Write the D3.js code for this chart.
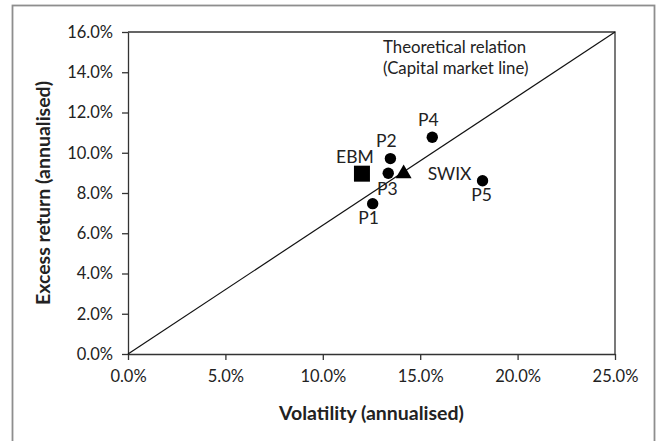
<!DOCTYPE html>
<html>
<head>
<meta charset="utf-8">
<script src="https://cdn.jsdelivr.net/npm/d3@7"></script>
<style>
  body { margin: 0; background: #fff; }
  text { font-family: Lato, "Open Sans", sans-serif; fill: #222; }
</style>
</head>
<body>
<svg id="chart" width="660" height="441"></svg>
<script>
// Portfolios: annualised volatility vs annualised excess return
const portfolioNames = ["P1", "P2", "P3", "P4", "P5"];
const portfolioVolatility = [0.1256, 0.1347, 0.1336, 0.1562, 0.1820];
const portfolioReturn = [0.0747, 0.0971, 0.0898, 0.1077, 0.0861];

// Benchmarks
const benchmarkNames = ["EBM", "SWIX"];
const benchmarkVolatility = [0.1201, 0.1415];
const benchmarkReturn = [0.0896, 0.0896];

// Capital market line end points
const cmlVolatility = [0, 0.25];
const cmlReturn = [0, 0.16];

// Axis ticks
const xTicks = [0, 0.05, 0.10, 0.15, 0.20, 0.25];
const yTicks = [0, 0.02, 0.04, 0.06, 0.08, 0.10, 0.12, 0.14, 0.16];

const xTitle = "Volatility (annualised)";
const yTitle = "Excess return (annualised)";
const cmlLabel = ["Theoretical relation", "(Capital market line)"];

// Label placement relative to each marker (dx, dy, anchor)
const labelLayout = {
  P1: [-4, 20, "middle"],
  P2: [-4, -12, "middle"],
  P3: [-1, 22, "middle"],
  P4: [-4, -11, "middle"],
  P5: [-1, 20, "middle"],
  EBM: [-7, -11, "middle"],
  SWIX: [24, 6, "start"]
};

const svg = d3.select("#chart");
const margin = { left: 128, right: 45, top: 32, bottom: 87 };
const W = 660, H = 441;

const x = d3.scaleLinear().domain([0, 0.25]).range([margin.left, W - margin.right]);
const y = d3.scaleLinear().domain([0, 0.16]).range([H - margin.bottom, margin.top]);

// Outer frame
svg.append("rect")
  .attr("x", 12.5).attr("y", 5.5)
  .attr("width", 642).attr("height", 480)
  .attr("fill", "none").attr("stroke", "#8e8e8e").attr("stroke-width", 1.8);

const fmt = d3.format(".1%");
const axisColor = "#333";

// Axes
const gx = svg.append("g")
  .attr("transform", `translate(0,${y(0)})`)
  .call(d3.axisBottom(x).tickValues(xTicks).tickFormat(fmt).tickSizeInner(6).tickSizeOuter(0).tickPadding(10));
const gy = svg.append("g")
  .attr("transform", `translate(${x(0)},0)`)
  .call(d3.axisLeft(y).tickValues(yTicks).tickFormat(fmt).tickSizeInner(6).tickSizeOuter(0).tickPadding(9));

[gx, gy].forEach(g => {
  g.select(".domain").attr("stroke", axisColor).attr("stroke-width", 1.3);
  g.selectAll(".tick line").attr("stroke", axisColor).attr("stroke-width", 1.3);
  g.selectAll(".tick text").attr("font-family", "Lato, 'Open Sans', sans-serif")
    .attr("font-size", 16.5).attr("fill", "#2a2a2a");
});

// Top and right borders of the plot area
svg.append("path")
  .attr("d", `M${x(0)},${y(0.16)}H${x(0.25)}V${y(0)}`)
  .attr("fill", "none").attr("stroke", axisColor).attr("stroke-width", 1.3);

// Capital market line
svg.append("line")
  .attr("x1", x(cmlVolatility[0])).attr("y1", y(cmlReturn[0]))
  .attr("x2", x(cmlVolatility[1])).attr("y2", y(cmlReturn[1]))
  .attr("stroke", "#111").attr("stroke-width", 1.2);

svg.append("text")
  .attr("x", 383).attr("y", 53)
  .attr("font-size", 16.8)
  .selectAll("tspan").data(cmlLabel).join("tspan")
  .attr("x", 383).attr("dy", (d, i) => i === 0 ? 0 : 21)
  .text(d => d);

// Portfolio markers
const portfolios = portfolioNames.map((n, i) => ({ name: n, vol: portfolioVolatility[i], ret: portfolioReturn[i] }));
const benchmarks = benchmarkNames.map((n, i) => ({ name: n, vol: benchmarkVolatility[i], ret: benchmarkReturn[i] }));

svg.append("g").selectAll("circle").data(portfolios).join("circle")
  .attr("cx", d => x(d.vol)).attr("cy", d => y(d.ret))
  .attr("r", 5.7).attr("fill", "#000");

const symbolFor = { EBM: d3.symbol(d3.symbolSquare, 256), SWIX: d3.symbol(d3.symbolTriangle, 110) };
svg.append("g").selectAll("path").data(benchmarks).join("path")
  .attr("transform", d => `translate(${x(d.vol)},${y(d.ret)})`)
  .attr("d", d => symbolFor[d.name]())
  .attr("fill", "#000");

// Marker labels
svg.append("g").selectAll("text").data(portfolios.concat(benchmarks)).join("text")
  .attr("x", d => x(d.vol) + labelLayout[d.name][0])
  .attr("y", d => y(d.ret) + labelLayout[d.name][1])
  .attr("text-anchor", d => labelLayout[d.name][2])
  .attr("font-size", 17.5)
  .text(d => d.name);

// Axis titles
svg.append("text")
  .attr("x", (x(0) + x(0.25)) / 2).attr("y", 420)
  .attr("text-anchor", "middle")
  .attr("font-size", 19.5).attr("font-weight", "bold")
  .text(xTitle);

svg.append("text")
  .attr("transform", `translate(50,${(y(0) + y(0.16)) / 2}) rotate(-90)`)
  .attr("text-anchor", "middle")
  .attr("font-size", 19.5).attr("font-weight", "bold")
  .text(yTitle);
</script>
</body>
</html>
